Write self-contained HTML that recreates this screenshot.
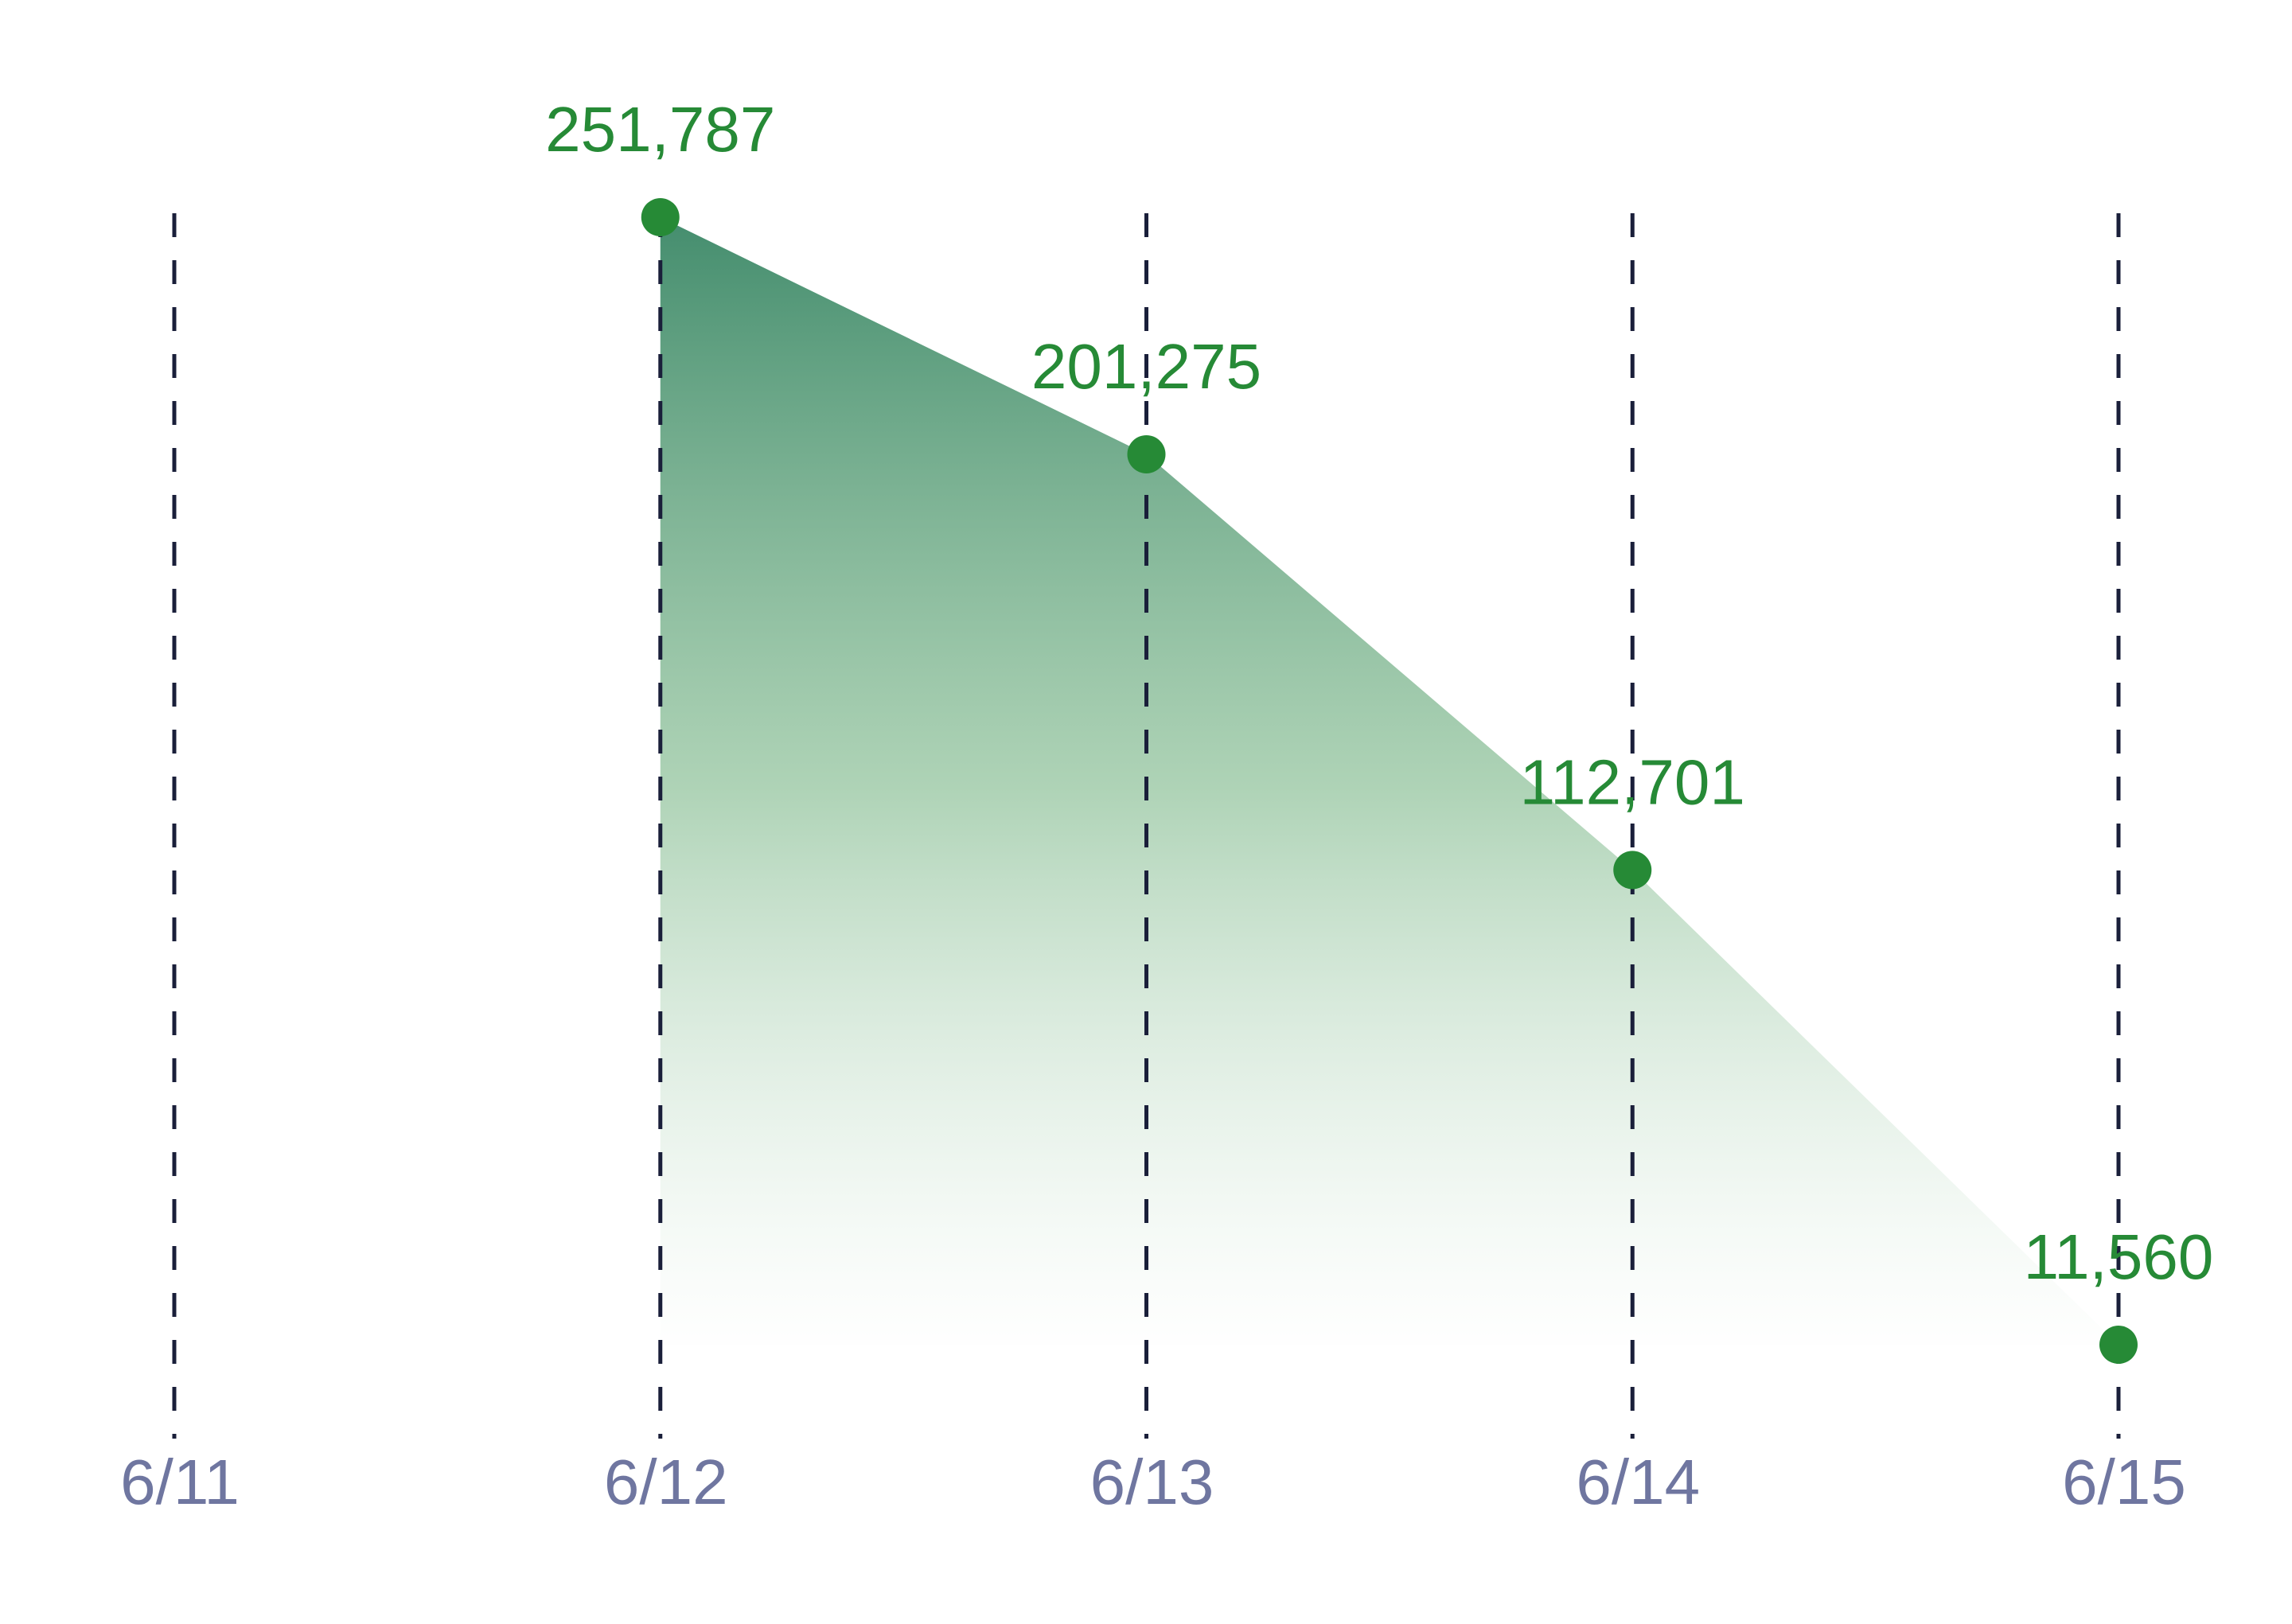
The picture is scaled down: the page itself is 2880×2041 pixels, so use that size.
<!DOCTYPE html>
<html><head><meta charset="utf-8"><style>
html,body{margin:0;padding:0;background:#fff;}
svg{display:block;}
text{font-family:"Liberation Sans",sans-serif;}
</style></head><body>
<svg id="chart" width="2880" height="2041" viewBox="0 0 2880 2041" xmlns="http://www.w3.org/2000/svg">
<defs>
<linearGradient id="fillGrad" gradientUnits="userSpaceOnUse" x1="0" y1="272" x2="0" y2="1710">
<stop offset="0" stop-color="#3a8766" stop-opacity="0.95"/>
<stop offset="0.5" stop-color="#8fc29a" stop-opacity="0.72"/>
<stop offset="1" stop-color="#ffffff" stop-opacity="0.3"/>
</linearGradient>
</defs>
<g id="area"></g>
<g id="grid"></g>
<g id="xlabels"></g>
<g id="points"></g>
<g id="vlabels"></g>
</svg>
<script>
const categories = ["6/11","6/12","6/13","6/14","6/15"];
const values = [null, 251787, 201275, 112701, 11560];
const valueLabels = ["", "251,787", "201,275", "112,701", "11,560"];

const NS = "http://www.w3.org/2000/svg";
const xLeft = 219, xRight = 2662;
function xPos(i){ return xLeft + i*(xRight-xLeft)/(categories.length-1); }
const yTopVal = 251787, yBotVal = 11560, yTopPx = 273, yBotPx = 1690;
function yPos(v){ return yBotPx - (v - yBotVal)*(yBotPx - yTopPx)/(yTopVal - yBotVal); }
const gridTop = 268, gridBottom = 1808;

const grid = document.getElementById('grid');
const xl = document.getElementById('xlabels');
categories.forEach((c,i)=>{
  const l = document.createElementNS(NS,'line');
  l.setAttribute('x1',xPos(i)); l.setAttribute('x2',xPos(i));
  l.setAttribute('y1',gridTop); l.setAttribute('y2',gridBottom);
  l.setAttribute('stroke','#1a1f3a'); l.setAttribute('stroke-width','5');
  l.setAttribute('stroke-dasharray','30 29');
  
  
  grid.appendChild(l);
  const t = document.createElementNS(NS,'text');
  t.setAttribute('x',xPos(i)+7); t.setAttribute('y',1890);
  t.setAttribute('text-anchor','middle'); t.setAttribute('font-size','80');
  t.setAttribute('fill','#6f76a0');
  t.textContent = c;
  
  
  xl.appendChild(t);
});

const pts = [];
values.forEach((v,i)=>{ if(v!==null) pts.push([xPos(i), yPos(v), i]); });
const baseY = Math.max(...pts.map(p=>p[1]));
const area = document.getElementById('area');
let d = 'M'+pts[0][0]+','+baseY;
pts.forEach(p=>{ d += ' L'+p[0]+','+p[1]; });
d += ' L'+pts[pts.length-1][0]+','+baseY+' Z';
const path = document.createElementNS(NS,'path');
path.setAttribute('d',d); path.setAttribute('fill','url(#fillGrad)');


area.appendChild(path);

const pg = document.getElementById('points');
const vg = document.getElementById('vlabels');
pts.forEach(p=>{
  const c = document.createElementNS(NS,'circle');
  c.setAttribute('cx',p[0]); c.setAttribute('cy',p[1]); c.setAttribute('r','24');
  c.setAttribute('fill','#268a36');
  
  
  pg.appendChild(c);
  const t = document.createElementNS(NS,'text');
  t.setAttribute('x',p[0]); t.setAttribute('y',p[1]-83);
  t.setAttribute('text-anchor','middle'); t.setAttribute('font-size','80');
  t.setAttribute('fill','#268a36');
  t.textContent = valueLabels[p[2]];
  
  
  vg.appendChild(t);
});
</script>
</body></html>
